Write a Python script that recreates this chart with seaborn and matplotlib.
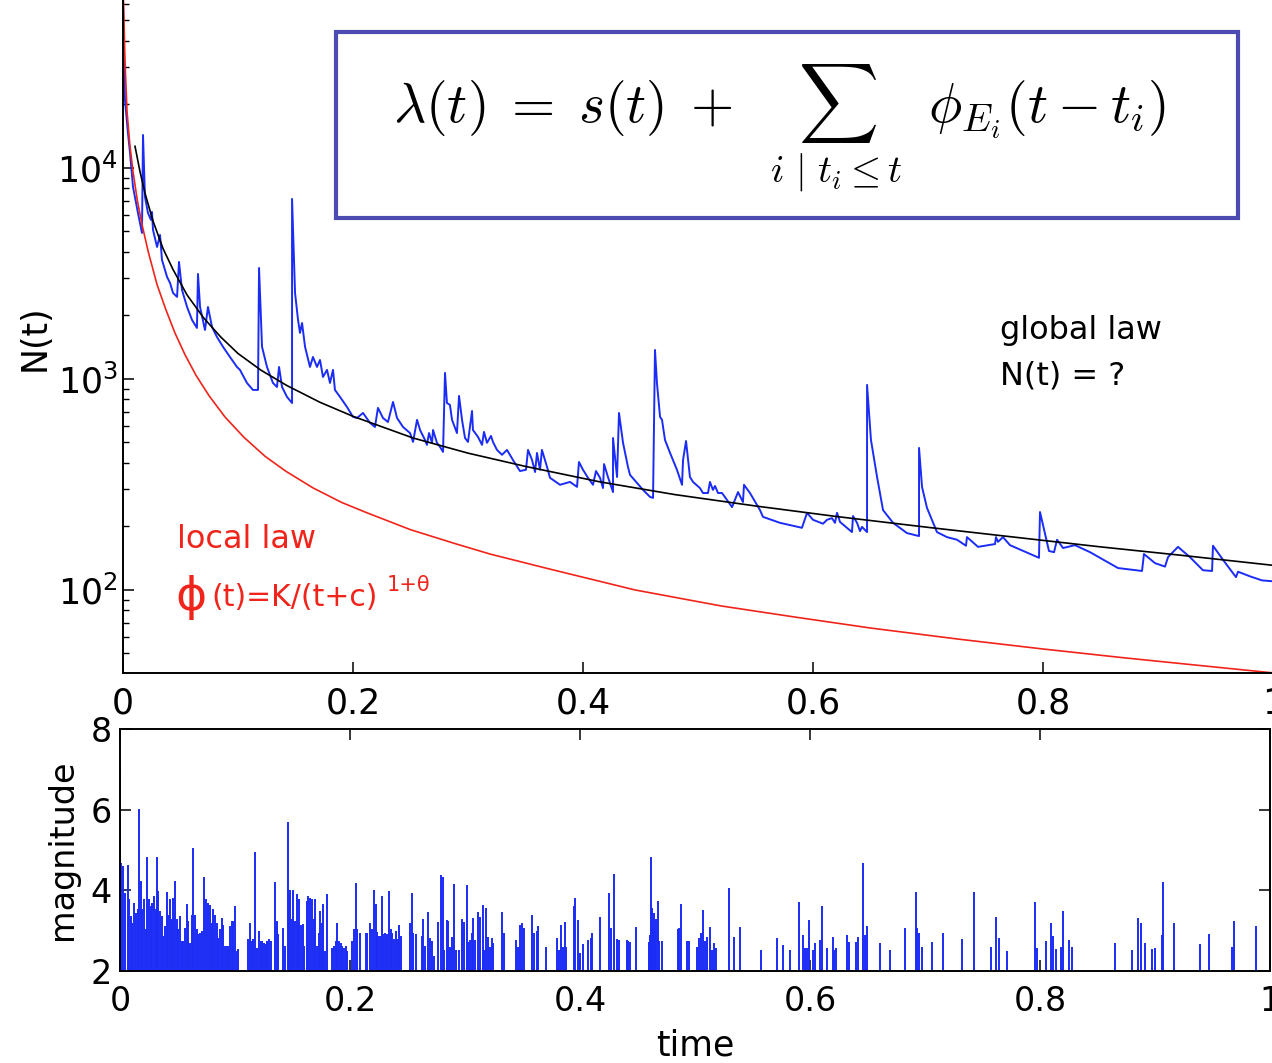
import numpy as np
import pandas as pd
import seaborn as sns
import matplotlib.pyplot as plt
from matplotlib.patches import Rectangle

# observed event rate N(t) (blue)
rate_t = [0.0, 0.0017, 0.0043, 0.0061, 0.0087, 0.0130, 0.0165, 0.0174, 0.0191, 0.0217,
          0.0243, 0.0252, 0.0261, 0.0296, 0.0322, 0.0339, 0.0383, 0.0409, 0.0435, 0.0470,
          0.0487, 0.0513, 0.0557, 0.0600, 0.0643, 0.0652, 0.0670, 0.0713, 0.0739, 0.0774,
          0.0817, 0.0870, 0.0930, 0.0991, 0.1017, 0.1078, 0.1130, 0.1174, 0.1183, 0.1209,
          0.1252, 0.1304, 0.1339, 0.1357, 0.1383, 0.1426, 0.1470, 0.1470, 0.1496, 0.1522,
          0.1539, 0.1557, 0.1583, 0.1626, 0.1652, 0.1687, 0.1713, 0.1739, 0.1774, 0.1800,
          0.1826, 0.1843, 0.1887, 0.1948, 0.2000, 0.2035, 0.2087, 0.2148, 0.2191, 0.2217,
          0.2261, 0.2304, 0.2348, 0.2383, 0.2435, 0.2496, 0.2522, 0.2557, 0.2583, 0.2626,
          0.2643, 0.2661, 0.2687, 0.2696, 0.2730, 0.2757, 0.2783, 0.2800, 0.2817, 0.2843,
          0.2861, 0.2904, 0.2922, 0.2948, 0.2974, 0.3000, 0.3035, 0.3043, 0.3087, 0.3122,
          0.3139, 0.3165, 0.3200, 0.3217, 0.3252, 0.3296, 0.3339, 0.3391, 0.3452, 0.3504,
          0.3522, 0.3557, 0.3583, 0.3600, 0.3626, 0.3643, 0.3687, 0.3713, 0.3800, 0.3887,
          0.3948, 0.3965, 0.4000, 0.4043, 0.4087, 0.4113, 0.4148, 0.4174, 0.4183, 0.4217,
          0.4261, 0.4261, 0.4296, 0.4313, 0.4348, 0.4391, 0.4409, 0.4470, 0.4522, 0.4583,
          0.4609, 0.4626, 0.4643, 0.4670, 0.4687, 0.4713, 0.4757, 0.4817, 0.4861, 0.4870,
          0.4896, 0.4930, 0.4957, 0.5017, 0.5043, 0.5087, 0.5104, 0.5130, 0.5148, 0.5174,
          0.5209, 0.5296, 0.5348, 0.5391, 0.5400, 0.5452, 0.5539, 0.5565, 0.5713, 0.5800,
          0.5904, 0.5948, 0.6000, 0.6087, 0.6122, 0.6165, 0.6191, 0.6209, 0.6235, 0.6339,
          0.6348, 0.6383, 0.6409, 0.6426, 0.6470, 0.6470, 0.6504, 0.6557, 0.6609, 0.6696,
          0.6817, 0.6922, 0.6922, 0.6948, 0.6991, 0.7078, 0.7165, 0.7252, 0.7330, 0.7339,
          0.7435, 0.7583, 0.7591, 0.7609, 0.7652, 0.7713, 0.7965, 0.7974, 0.8052, 0.8096,
          0.8122, 0.8174, 0.8278, 0.8409, 0.8652, 0.8861, 0.8878, 0.8974, 0.9061, 0.9087,
          0.9174, 0.9278, 0.9391, 0.9470, 0.9478, 0.9565, 0.9678, 0.9696, 0.9800, 0.9904,
          0.9991]
rate_n = [62500, 21000, 14660, 11780, 8128, 6120, 4920, 14330, 7290, 6120,
          5675, 6187, 5082, 4223, 4814, 3664, 3044, 2851, 2557, 2449,
          3585, 2642, 2193, 1905, 1745, 3145, 2193, 1706, 2193, 1764,
          1581, 1419, 1271, 1140, 1104, 957, 887, 887, 3357, 1419,
          1140, 957, 916, 1140, 916, 822, 769, 7129, 2557, 1905,
          1652, 1841, 1419, 1140, 1271, 1140, 1230, 1022, 1104, 957,
          1104, 887, 822, 736, 661, 653, 690, 619, 592, 729,
          653, 625, 778, 653, 592, 554, 503, 640, 573, 514,
          487, 554, 498, 573, 498, 476, 451, 1068, 769, 753,
          640, 554, 831, 640, 525, 503, 705, 573, 531, 487,
          561, 498, 537, 503, 461, 437, 461, 413, 366, 371,
          461, 413, 362, 446, 371, 461, 383, 340, 315, 325,
          308, 404, 371, 340, 315, 366, 340, 304, 395, 343,
          291, 525, 343, 690, 498, 383, 351, 321, 298, 276,
          273, 1372, 957, 661, 640, 514, 446, 371, 315, 413,
          508, 343, 325, 304, 288, 288, 325, 298, 311, 288,
          288, 247, 291, 261, 315, 288, 239, 222, 208, 203,
          197, 232, 215, 206, 215, 219, 208, 232, 210, 188,
          224, 208, 190, 199, 188, 937, 514, 343, 239, 208,
          186, 180, 471, 308, 245, 188, 178, 173, 162, 178,
          160, 165, 178, 169, 178, 163, 142, 234, 153, 151,
          173, 158, 163, 151, 127, 123, 148, 134, 129, 143,
          160, 143, 124, 123, 162, 139, 115, 122, 116, 111,
          110]

# global law (black)
glob_t = [0.0104, 0.0148, 0.0191, 0.0261, 0.0348, 0.0435, 0.0557, 0.0700, 0.0850, 0.1000,
          0.1200, 0.1426, 0.1713, 0.2000, 0.2522, 0.3000, 0.3500, 0.4150, 0.4800, 0.5500,
          0.6200, 0.7000, 0.7630, 0.8500, 0.9200, 0.9990]
glob_n = [12700, 9600, 7600, 5600, 4150, 3300, 2500, 1950, 1580, 1320,
          1100, 930, 775, 665, 525, 445, 385, 325, 283, 250,
          223, 198, 181, 160, 146, 131]

# local law (red)
loc_t = [0.0004, 0.0017, 0.0035, 0.0060, 0.0087, 0.0125, 0.0165, 0.0220, 0.0296, 0.0370,
         0.0452, 0.0540, 0.0635, 0.0750, 0.0887, 0.1050, 0.1235, 0.1417, 0.1650, 0.1900,
         0.2122, 0.2500, 0.2900, 0.3191, 0.3700, 0.4452, 0.5200, 0.5835, 0.6500, 0.7261,
         0.8000, 0.8687, 0.9300, 0.9991]
loc_n = [62500, 32500, 18500, 12800, 9600, 7000, 5400, 4000, 2800, 2150,
         1650, 1300, 1040, 830, 660, 530, 430, 365, 305, 260,
         232, 193, 165, 148, 126, 100, 84, 74.5, 66, 58.5,
         52.5, 47.8, 44.2, 40.5]

# event magnitudes (bottom panel)
quake_t = [0.0000, 0.0009, 0.0029, 0.0043, 0.0067, 0.0078, 0.0096, 0.0107, 0.0125, 0.0136,
           0.0154, 0.0168, 0.0183, 0.0194, 0.0209, 0.0223, 0.0238, 0.0252, 0.0270, 0.0281,
           0.0296, 0.0310, 0.0319, 0.0333, 0.0348, 0.0362, 0.0377, 0.0391, 0.0406, 0.0420,
           0.0435, 0.0449, 0.0464, 0.0478, 0.0493, 0.0507, 0.0522, 0.0536, 0.0551, 0.0565,
           0.0580, 0.0594, 0.0609, 0.0623, 0.0638, 0.0652, 0.0667, 0.0681, 0.0696, 0.0716,
           0.0730, 0.0745, 0.0762, 0.0783, 0.0797, 0.0812, 0.0826, 0.0841, 0.0855, 0.0870,
           0.0884, 0.0899, 0.0913, 0.0928, 0.0942, 0.0957, 0.0971, 0.0986, 0.1000, 0.1014,
           0.1029, 0.1116, 0.1130, 0.1145, 0.1159, 0.1174, 0.1188, 0.1209, 0.1223, 0.1238,
           0.1252, 0.1267, 0.1281, 0.1296, 0.1310, 0.1348, 0.1362, 0.1377, 0.1420, 0.1435,
           0.1458, 0.1470, 0.1481, 0.1493, 0.1507, 0.1522, 0.1536, 0.1545, 0.1559, 0.1574,
           0.1588, 0.1603, 0.1623, 0.1638, 0.1652, 0.1667, 0.1684, 0.1699, 0.1713, 0.1728,
           0.1739, 0.1754, 0.1768, 0.1783, 0.1797, 0.1846, 0.1861, 0.1875, 0.1890, 0.1904,
           0.1919, 0.1933, 0.1948, 0.1962, 0.1977, 0.2020, 0.2032, 0.2049, 0.2064, 0.2087,
           0.2136, 0.2151, 0.2174, 0.2188, 0.2209, 0.2223, 0.2238, 0.2246, 0.2261, 0.2275,
           0.2290, 0.2304, 0.2319, 0.2339, 0.2354, 0.2368, 0.2383, 0.2400, 0.2414, 0.2429,
           0.2441, 0.2522, 0.2536, 0.2551, 0.2571, 0.2623, 0.2638, 0.2652, 0.2681, 0.2696,
           0.2716, 0.2733, 0.2768, 0.2789, 0.2806, 0.2817, 0.2841, 0.2855, 0.2870, 0.2884,
           0.2904, 0.2922, 0.2951, 0.2971, 0.2991, 0.3014, 0.3029, 0.3043, 0.3058, 0.3072,
           0.3087, 0.3116, 0.3130, 0.3154, 0.3165, 0.3180, 0.3197, 0.3217, 0.3232, 0.3246,
           0.3325, 0.3339, 0.3443, 0.3464, 0.3478, 0.3499, 0.3513, 0.3586, 0.3603, 0.3623,
           0.3638, 0.3704, 0.3797, 0.3820, 0.3835, 0.3855, 0.3873, 0.3878, 0.3948, 0.3959,
           0.3986, 0.4000, 0.4029, 0.4072, 0.4093, 0.4107, 0.4174, 0.4252, 0.4267, 0.4299,
           0.4319, 0.4342, 0.4406, 0.4420, 0.4435, 0.4487, 0.4603, 0.4609, 0.4615, 0.4622,
           0.4629, 0.4636, 0.4643, 0.4650, 0.4658, 0.4675, 0.4690, 0.4710, 0.4850, 0.4864,
           0.4878, 0.4928, 0.4951, 0.5020, 0.5038, 0.5052, 0.5072, 0.5087, 0.5101, 0.5130,
           0.5145, 0.5168, 0.5183, 0.5299, 0.5342, 0.5391, 0.5571, 0.5716, 0.5768, 0.5826,
           0.5907, 0.5936, 0.5957, 0.5971, 0.5994, 0.6023, 0.6043, 0.6087, 0.6101, 0.6145,
           0.6197, 0.6209, 0.6226, 0.6325, 0.6342, 0.6400, 0.6420, 0.6464, 0.6478, 0.6493,
           0.6609, 0.6696, 0.6829, 0.6922, 0.6933, 0.6948, 0.6971, 0.7058, 0.7159, 0.7325,
           0.7429, 0.7574, 0.7614, 0.7646, 0.7710, 0.7957, 0.7971, 0.8052, 0.8096, 0.8110,
           0.8139, 0.8180, 0.8197, 0.8252, 0.8275, 0.8655, 0.8800, 0.8855, 0.8878, 0.8913,
           0.8971, 0.9000, 0.9058, 0.9072, 0.9165, 0.9391, 0.9470, 0.9670, 0.9687, 0.9878]
quake_mag = [7.00, 4.69, 4.60, 3.94, 4.64, 3.78, 3.36, 3.20, 3.69, 3.45,
             3.53, 6.02, 4.23, 3.53, 3.78, 3.03, 4.83, 3.78, 3.61, 3.69,
             3.86, 3.53, 4.83, 3.98, 3.49, 3.36, 2.87, 3.12, 3.96, 3.40,
             3.78, 3.28, 3.82, 4.23, 3.28, 3.03, 3.36, 2.74, 2.74, 3.07,
             3.65, 3.24, 2.70, 3.38, 5.04, 3.40, 3.03, 2.91, 2.95, 2.99,
             4.34, 3.78, 3.68, 3.63, 3.20, 3.53, 3.40, 3.20, 2.83, 3.03,
             3.32, 3.13, 2.62, 2.62, 2.62, 3.12, 3.24, 3.24, 3.61, 2.50,
             2.54, 2.79, 3.18, 2.74, 2.79, 4.95, 2.58, 2.99, 2.74, 2.74,
             2.70, 2.66, 2.74, 2.79, 2.74, 4.21, 3.24, 2.91, 3.07, 2.62,
             5.70, 3.88, 4.02, 3.28, 4.01, 3.24, 3.90, 3.20, 3.78, 3.13,
             3.16, 2.62, 3.74, 3.86, 3.82, 3.78, 3.28, 3.78, 2.62, 2.95,
             3.49, 3.20, 3.65, 2.50, 3.90, 2.58, 2.62, 2.74, 3.20, 2.74,
             2.70, 2.62, 2.58, 2.62, 2.50, 2.74, 3.03, 4.17, 3.03, 2.95,
             2.95, 2.95, 3.20, 3.03, 4.02, 3.65, 2.97, 2.87, 2.88, 3.86,
             2.91, 2.95, 2.91, 3.98, 3.03, 2.95, 2.80, 2.98, 2.80, 3.13,
             2.87, 3.20, 3.93, 2.95, 2.91, 2.88, 3.30, 2.62, 3.46, 2.83,
             2.74, 2.37, 3.22, 4.38, 4.32, 2.52, 3.26, 3.25, 2.60, 2.85,
             4.16, 2.52, 2.52, 3.28, 3.22, 4.13, 2.73, 2.77, 2.94, 3.31,
             2.77, 3.47, 3.35, 3.64, 2.52, 3.55, 2.85, 2.60, 2.81, 2.69,
             3.47, 2.94, 2.77, 2.60, 3.14, 3.20, 3.06, 3.39, 2.94, 2.98,
             3.11, 2.60, 2.81, 2.52, 3.14, 2.60, 3.22, 2.60, 3.62, 3.80,
             3.26, 2.44, 2.66, 2.78, 2.81, 2.93, 3.33, 3.94, 3.06, 4.40,
             2.79, 2.78, 2.78, 2.74, 2.73, 3.08, 2.73, 2.90, 4.82, 3.00,
             3.55, 3.10, 3.43, 3.00, 3.28, 3.74, 2.74, 2.74, 3.03, 3.06,
             3.65, 2.74, 2.74, 2.60, 2.81, 2.93, 3.51, 2.74, 2.85, 3.10,
             2.52, 2.69, 2.56, 4.05, 2.85, 3.08, 2.52, 2.81, 2.64, 2.52,
             3.70, 2.90, 2.56, 2.56, 3.26, 2.52, 2.69, 2.77, 3.60, 2.56,
             2.85, 2.52, 2.56, 2.89, 2.73, 2.73, 2.85, 4.67, 2.89, 3.12,
             2.69, 2.52, 3.06, 3.97, 3.06, 2.93, 2.59, 2.71, 2.93, 2.79,
             3.97, 2.60, 3.35, 2.82, 2.50, 3.72, 2.56, 2.74, 3.20, 2.88,
             2.55, 2.60, 3.50, 2.77, 2.59, 2.69, 2.52, 3.31, 3.20, 2.70,
             2.54, 2.56, 2.89, 4.20, 3.18, 2.67, 2.92, 2.59, 3.25, 3.12]

top_xticks = [0, 0.2, 0.4, 0.6, 0.8, 1.0]
top_xlabels = ['0', '0.2', '0.4', '0.6', '0.8', '1']
mag_yticks = [2, 4, 6, 8]

df_rate = pd.DataFrame({'t': rate_t, 'N': rate_n})
df_glob = pd.DataFrame({'t': glob_t, 'N': glob_n})
df_loc = pd.DataFrame({'t': loc_t, 'N': loc_n})

sns.set_style('ticks')
plt.rcParams['font.family'] = ['DejaVu Sans']
plt.rcParams['axes.linewidth'] = 1.4
plt.rcParams['axes.edgecolor'] = 'black'
plt.rcParams['text.color'] = 'black'
plt.rcParams['axes.labelcolor'] = 'black'
plt.rcParams['xtick.color'] = 'black'
plt.rcParams['ytick.color'] = 'black'

W, H = 1272.0, 1063.0
fig = plt.figure(figsize=(12.72, 10.63), dpi=100)
ax1 = fig.add_axes([123 / W, 1 - 673 / H, 1150 / W, 673 / H])
ax2 = fig.add_axes([120 / W, 1 - 971 / H, 1150 / W, 242 / H])

blue = '#1a2cf5'
red = '#f0241a'

# top panel
sns.lineplot(data=df_rate, x='t', y='N', ax=ax1, color=blue, lw=1.4,
             estimator=None, sort=False, legend=False)
sns.lineplot(data=df_glob, x='t', y='N', ax=ax1, color='black', lw=1.2,
             estimator=None, sort=False, legend=False)
sns.lineplot(data=df_loc, x='t', y='N', ax=ax1, color=red, lw=1.2,
             estimator=None, sort=False, legend=False)
ax1.set_yscale('log')
ax1.set_xlim(0, 1)
ax1.set_ylim(40.4, 62500)
ax1.set_xticks(top_xticks)
ax1.set_xticklabels(top_xlabels)
ax1.spines['top'].set_visible(False)
ax1.spines['right'].set_visible(False)
ax1.tick_params(axis='both', which='both', direction='in', top=False, right=False)
ax1.tick_params(axis='both', which='major', length=8, width=1.1)
ax1.tick_params(axis='y', which='minor', length=4, width=1.0)
ax1.tick_params(axis='x', labelsize=25, pad=10)
ax1.tick_params(axis='y', labelsize=25, pad=4)
ax1.set_xlabel('')
ax1.set_ylabel('N(t)', fontsize=25)
ax1.yaxis.set_label_coords(-0.0765, 0.498)
ax1.yaxis.label.set_va('center')

fig.text(1000 / W, 1 - 330 / H, 'global law', fontsize=23, ha='left', va='center')
fig.text(1000 / W, 1 - 376 / H, 'N(t) = ?', fontsize=23, ha='left', va='center')
fig.text(177 / W, 1 - 540 / H, 'local law', fontsize=23, ha='left', va='center',
         color=red)
fig.text(175 / W, 1 - 598 / H, '\u03d5', fontsize=34, ha='left', va='center',
         color=red)
fig.text(211 / W, 1 - 598 / H, '(t)=K/(t+c)', fontsize=21.5, ha='left', va='center',
         color=red)
fig.text(387 / W, 1 - 585 / H, '1+\u03b8', fontsize=15, ha='left', va='center',
         color=red)

# formula box
fig.add_artist(Rectangle((336 / W, 1 - 218 / H), (1238 - 336) / W, (218 - 32) / H,
                         transform=fig.transFigure, facecolor='white',
                         edgecolor='#4b4bb2', lw=3, zorder=4))
formula = (r'$\lambda(t)\;=\;s(t)\;+\;\;\sum_{i\ |\ t_i \leq t}\;\;'
           r'\phi_{E_i}(t - t_i)$')
fig.text(779 / W, 1 - 128 / H, formula, fontsize=40, ha='center', va='center',
         math_fontfamily='cm', zorder=5)

# bottom panel
ax2.vlines(quake_t, 2, quake_mag, color=blue, lw=1.4)
ax2.set_xlim(0, 1)
ax2.set_ylim(2, 8)
ax2.set_xticks(top_xticks)
ax2.set_xticklabels(top_xlabels)
ax2.set_yticks(mag_yticks)
ax2.set_yticklabels([str(v) for v in mag_yticks])
ax2.tick_params(axis='both', which='both', direction='in', top=True, right=True,
                length=8, width=1.1)
ax2.tick_params(axis='x', labelsize=24, pad=10)
ax2.tick_params(axis='y', labelsize=24, pad=6)
ax2.set_xlabel('time', fontsize=25)
ax2.xaxis.set_label_coords(0.5, -0.306)
ax2.xaxis.label.set_va('center')
ax2.set_ylabel('magnitude', fontsize=24)
ax2.yaxis.set_label_coords(-0.0496, 0.5)
ax2.yaxis.label.set_va('center')

fig.savefig('out.png', dpi=100)
